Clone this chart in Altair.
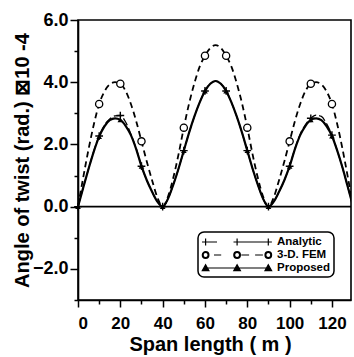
import altair as alt
import pandas as pd

# ---------------- data ----------------
x_m = [0, 2.5, 5, 7.5, 10, 12.5, 15, 17.5, 20, 22.5, 25, 27.5, 30, 32.5, 35, 37.5,
       40, 42.5, 45, 47.5, 50, 52.5, 55, 57.5, 60, 62.5, 65, 67.5, 70, 72.5, 75, 77.5,
       80, 82.5, 85, 87.5, 90, 92.5, 95, 97.5, 100, 102.5, 105, 107.5, 110, 112.5, 115,
       117.5, 120, 122.5, 125, 127.5, 130]

analytic = [0, 0.62, 1.22, 1.8, 2.27, 2.62, 2.82, 2.92, 2.93, 2.72, 2.33, 1.87, 1.3, 0.85, 0.48, 0.16,
            0, 0.25, 0.7, 1.22, 1.8, 2.38, 2.9, 3.35, 3.72, 3.95, 4.04, 3.95, 3.72, 3.35, 2.9, 2.38,
            1.8, 1.22, 0.7, 0.25, 0, 0.16, 0.48, 0.85, 1.3, 1.87, 2.33, 2.64, 2.84, 2.94, 2.9,
            2.66, 2.3, 1.8, 1.25, 0.63, 0]

fem = [0, 0.95, 1.85, 2.65, 3.3, 3.7, 3.93, 4.0, 3.95, 3.72, 3.3, 2.75, 2.1, 1.45, 0.85, 0.3,
       0, 0.32, 0.92, 1.68, 2.54, 3.32, 3.97, 4.5, 4.85, 5.1, 5.19, 5.1, 4.85, 4.5, 3.97, 3.32,
       2.54, 1.68, 0.92, 0.32, 0, 0.3, 0.85, 1.45, 2.1, 2.75, 3.3, 3.72, 3.95, 4.0, 3.93,
       3.7, 3.3, 2.65, 1.85, 0.95, 0]

proposed = [0, 0.62, 1.22, 1.78, 2.25, 2.58, 2.78, 2.84, 2.79, 2.6, 2.3, 1.85, 1.3, 0.85, 0.48, 0.16,
            0, 0.25, 0.7, 1.22, 1.8, 2.38, 2.9, 3.35, 3.72, 3.95, 4.04, 3.95, 3.72, 3.35, 2.9, 2.38,
            1.8, 1.22, 0.7, 0.25, 0, 0.16, 0.48, 0.85, 1.3, 1.85, 2.3, 2.6, 2.79, 2.84, 2.78,
            2.58, 2.27, 1.8, 1.25, 0.63, 0]

series_names = ["Analytic", "3-D. FEM", "Proposed"]
analytic_marks = [0, 10, 20, 30, 40, 50, 60, 70, 80, 90, 100, 110, 120]
fem_marks = [10, 20, 30, 50, 60, 70, 80, 100, 110, 120]
proposed_marks = [0, 10, 20, 30, 40, 50, 60, 70, 80, 90, 100, 110, 120]

x_major = [0, 20, 40, 60, 80, 100, 120]
x_minor = [10, 30, 50, 70, 90, 110]
y_major = [-2, 0, 2, 4, 6]
y_minor = [-3, -1, 1, 3, 5]
zero_line = [0]

# ---------------- tables ----------------
rows = []
for name, ys in zip(series_names, [analytic, fem, proposed]):
    for xv, yv in zip(x_m, ys):
        rows.append({"x": xv, "y": yv, "series": name})
df = pd.DataFrame(rows)

marks_for = dict(zip(series_names, [analytic_marks, fem_marks, proposed_marks]))
mk = pd.concat([df[(df.series == s) & (df.x.isin(m))] for s, m in marks_for.items()])
zero_df = pd.DataFrame({"y": zero_line})

FONT = "Liberation Sans"

# ---------------- legend symbol paths (unit = 6 px) ----------------
def f(v):
    return f"{v:.2f}"

c1, c2, c3 = -0.4, 4.85, 10.05

def plus(c, a=0.6):
    return f"M{f(c-a)},0L{f(c+a)},0M{f(c)},{f(-a)}L{f(c)},{f(a)}"

def ring(c, r=0.55, r2=0.42):
    return (f"M{f(c-r)},0A{f(r)},{f(r)} 0 1,0 {f(c+r)},0A{f(r)},{f(r)} 0 1,0 {f(c-r)},0Z"
            f"M{f(c-r2)},0A{f(r2)},{f(r2)} 0 1,1 {f(c+r2)},0A{f(r2)},{f(r2)} 0 1,1 {f(c-r2)},0Z")

def tri(c, a=0.55):
    return f"M{f(c)},{f(-a)}L{f(c+a)},{f(a*0.8)}L{f(c-a)},{f(a*0.8)}Z"

legend_analytic = (plus(c1) + f"M{f(c1+0.6)},0L{f(c1+1.9)},0" + plus(c2)
                   + f"M{f(c2)},0L{f(c3)},0" + plus(c3))
legend_fem = (ring(c1) + f"M{f(c1+1.4)},0L{f(c1+2.6)},0" + ring(c2)
              + f"M{f(c2+0.7)},0L{f(c2+2.0)},0" + f"M{f(c2+3.0)},0L{f(c2+4.3)},0" + ring(c3))
legend_proposed = f"M{f(c1)},0L{f(c3)},0" + tri(c1) + tri(c2) + tri(c3)

# ---------------- encodings ----------------
xscale = alt.Scale(domain=[0, 129], nice=False, zero=False)
yscale = alt.Scale(domain=[-3, 6], nice=False, zero=False)

X = alt.X("x:Q", scale=xscale,
          axis=alt.Axis(orient="bottom", values=x_major, format="d", tickSize=7, labelPadding=8,
                        labelFontSize=17,
                        title="Span length ( m )", titleX=132, titleY=50,
                        titleBaseline="alphabetic", titleAnchor="middle"))
Y = alt.Y("y:Q", scale=yscale,
          axis=alt.Axis(orient="left", values=y_major, format=".1f", tickSize=8, labelPadding=2,
                        title="Angle of twist (rad.) \u22a010 -4", titleX=-50, titleY=140,
                        titleAngle=-90, titleBaseline="alphabetic", titleAlign="center"))

Xm = alt.X("x:Q", scale=xscale,
           axis=alt.Axis(orient="bottom", values=x_minor, labels=False, tickSize=4,
                         domain=False, title=""))
Ym = alt.Y("y:Q", scale=yscale,
           axis=alt.Axis(orient="left", values=y_minor, labels=False, tickSize=4,
                         domain=False, title=""))

Xn = alt.X("x:Q", scale=xscale, axis=None)
Yn = alt.Y("y:Q", scale=yscale, axis=None)

base = alt.Chart(df)

line_fem = base.transform_filter(alt.datum.series == "3-D. FEM").mark_line(
    interpolate="monotone", strokeDash=[6, 4], strokeWidth=1.8, color="black", clip=True
).encode(x=Xn, y=Yn)
line_ana = base.transform_filter(alt.datum.series == "Analytic").mark_line(
    interpolate="monotone", strokeDash=[8, 3], strokeWidth=1.3, color="black", clip=True
).encode(x=Xn, y=Yn)
line_pro = base.transform_filter(alt.datum.series == "Proposed").mark_line(
    interpolate="monotone", strokeWidth=2.2, color="black", clip=True
).encode(x=X, y=Y)

mbase = alt.Chart(mk)
pt_fem = mbase.transform_filter(alt.datum.series == "3-D. FEM").mark_point(
    shape="circle", size=52, filled=False, fill="white", stroke="black", strokeWidth=1.3,
    opacity=1
).encode(x=Xm, y=Ym)
pt_ana = mbase.transform_filter(alt.datum.series == "Analytic").mark_point(
    shape="M-1,0L1,0M0,-1L0,1", size=60, filled=False, stroke="black", strokeWidth=1.4,
    opacity=1
).encode(x=Xn, y=Yn)
pt_pro = mbase.transform_filter(alt.datum.series == "Proposed").mark_point(
    shape="triangle-up", size=32, filled=True, color="black", opacity=1
).encode(x=Xn, y=Yn)

zero_rule = alt.Chart(zero_df).mark_rule(color="black", strokeWidth=1.6).encode(y=Yn)

legend_props = dict(
    title=None, orient="none", legendX=120, legendY=212,
    strokeColor="black", cornerRadius=6, padding=3, rowPadding=0,
    labelFont=FONT, labelFontSize=11.5, labelFontWeight="bold", labelColor="black",
    labelOffset=62, symbolSize=144, symbolStrokeWidth=1.2,
    symbolStrokeColor="black", symbolFillColor="black", symbolOpacity=1,
)
black3 = ["black", "black", "black"]

legend_carrier = base.mark_point(filled=True, strokeWidth=1.2, opacity=0, size=144).encode(
    x=Xn, y=Yn,
    shape=alt.Shape(
        "series:N",
        scale=alt.Scale(domain=series_names,
                        range=[legend_analytic, legend_fem, legend_proposed]),
        legend=alt.Legend(**legend_props),
    ),
    fill=alt.Fill("series:N", scale=alt.Scale(domain=series_names, range=black3),
                  legend=alt.Legend(**legend_props)),
    stroke=alt.Stroke("series:N", scale=alt.Scale(domain=series_names, range=black3),
                      legend=alt.Legend(**legend_props)),
)

chart = alt.layer(
    zero_rule, line_fem, line_ana, line_pro, pt_fem, pt_ana, pt_pro, legend_carrier
).resolve_axis(
    x="independent", y="independent"
).properties(
    width=273, height=280,
    padding={"left": 78, "top": 20, "right": 3, "bottom": 57},
    autosize=alt.AutoSizeParams(type="none"),
).configure_view(
    stroke="black", strokeWidth=1.6
).configure_axis(
    labelFont=FONT, labelFontWeight="bold", labelFontSize=18, labelColor="black",
    titleFont=FONT, titleFontWeight="bold", titleFontSize=20, titleColor="black",
    domainColor="black", domainWidth=1.6, tickColor="black", tickWidth=1.5, grid=False,
).configure_legend(
    strokeWidth=1.5
)

chart.save("out.html", embed_options={"renderer": "svg", "actions": False})
